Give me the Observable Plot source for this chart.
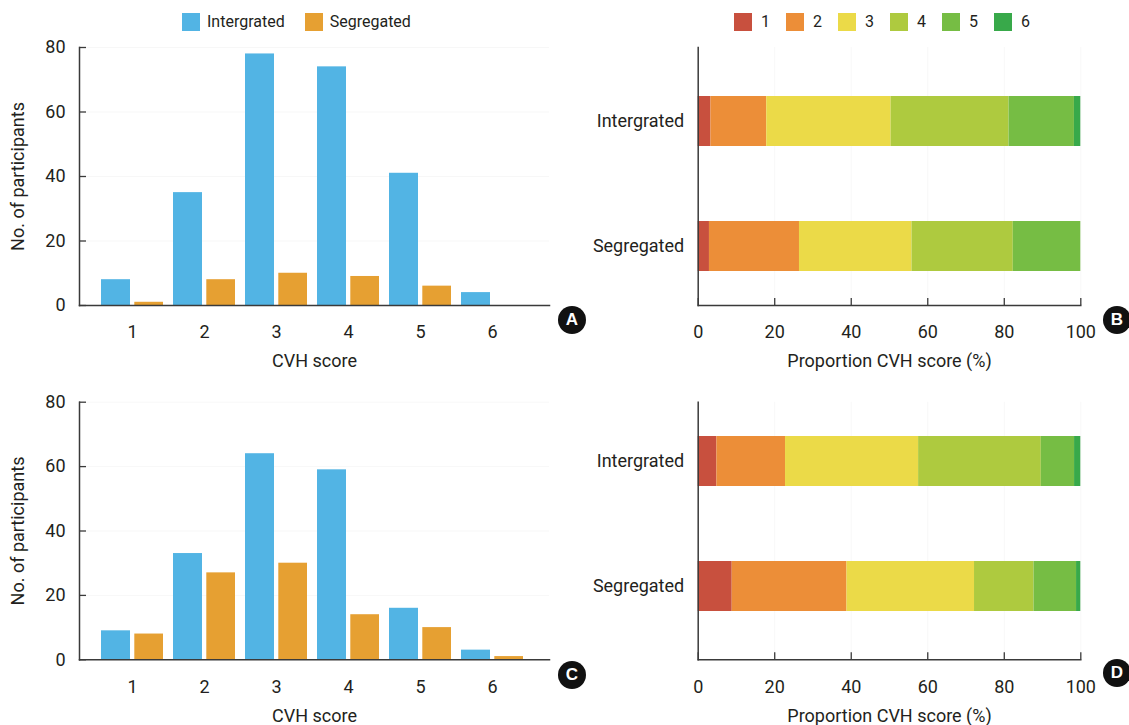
<!DOCTYPE html>
<html><head><meta charset="utf-8">
<script src="https://cdn.jsdelivr.net/npm/d3@7"></script>
<script src="https://cdn.jsdelivr.net/npm/@observablehq/plot@0.6"></script>
<style>
body{margin:0;background:#fff;font-family:Roboto,sans-serif;color:#231f20}
#fig{position:relative;width:1129px;height:725px;overflow:hidden;background:#fff}
.panel{position:absolute}
.legend{position:absolute;display:flex;align-items:center;font-size:16px;height:18px;line-height:18px}
.item{display:flex;align-items:center}
.sw{display:inline-block;width:18px;height:18px}
.badge{position:absolute;width:28px;height:28px;border-radius:50%;background:#111;color:#fff;font-weight:bold;font-size:17px;display:flex;align-items:center;justify-content:center;font-family:"Liberation Sans",Arial,sans-serif}
</style></head><body><div id="fig"></div><script>
// ---- data ----
const scores = ["1", "2", "3", "4", "5", "6"];
const groups = ["Intergrated", "Segregated"];
const countsA_int = [8, 35, 78, 74, 41, 4];
const countsA_seg = [1, 8, 10, 9, 6, 0];
const countsC_int = [9, 33, 64, 59, 16, 3];
const countsC_seg = [8, 27, 30, 14, 10, 1];
const yTicks = [0, 20, 40, 60, 80];
const xTicksProp = [0, 20, 40, 60, 80, 100];
const groupColors = ["#52b4e4", "#e6a032"];
const scoreColors = ["#c8503e", "#ec8e38", "#ebda48", "#aeca3f", "#76bd44", "#38a94a"];

const ink = "#231f20";
const axisInk = "#3a3a3a";
const fig = document.getElementById("fig");

function place(el, left, top) {
  el.classList.add("panel");
  el.style.left = left + "px";
  el.style.top = top + "px";
  fig.appendChild(el);
}

function countPanel(intC, segC, height, mTop, mBottom) {
  const rows = scores.flatMap((s, i) => [
    {score: s, group: groups[0], n: intC[i]},
    {score: s, group: groups[1], n: segC[i]}
  ]);
  return Plot.plot({
    width: 560, height,
    marginLeft: 79, marginRight: 11, marginTop: mTop, marginBottom: mBottom,
    style: {fontFamily: "Roboto", fontSize: "18px", color: ink, background: "transparent", overflow: "visible"},
    x: {domain: scores, padding: 0.135, insetLeft: 11.2, insetRight: 14},
    y: {domain: [0, 80]},
    color: {domain: groups, range: groupColors},
    marks: [
      Plot.gridY(yTicks, {stroke: "#000", strokeOpacity: 0.03}),
      Plot.barY(rows.filter(d => d.group === groups[0]), {x: "score", y: "n", fill: "group", insetRight: 33}),
      Plot.barY(rows.filter(d => d.group === groups[1]), {x: "score", y: "n", fill: "group", insetLeft: 33.3}),
      Plot.axisY(yTicks, {tickSize: 0, tickPadding: 14, label: null, fill: ink}),
      Plot.axisY(yTicks, {tickSize: -7, fill: "none", stroke: axisInk, strokeWidth: 1.3, label: null}),
      Plot.axisX({tickSize: 0, tickPadding: 20, label: null, fill: ink}),
      Plot.frame({anchor: "left", stroke: axisInk, strokeWidth: 1.5}),
      Plot.frame({anchor: "bottom", stroke: axisInk, strokeWidth: 1.5}),
      Plot.text(["CVH score"], {frameAnchor: "bottom", dy: 56, lineAnchor: "middle", textAnchor: "middle", text: d => d, fill: ink, fontSize: 18}),
      Plot.text(["No. of participants"], {frameAnchor: "left", dx: -61, rotate: -90, textAnchor: "middle", lineAnchor: "middle", text: d => d, fill: ink, fontSize: 18})
    ]
  });
}

function propPanel(intC, segC, height, mTop, mBottom, yRange) {
  const rows = [];
  [intC, segC].forEach((c, gi) => {
    const tot = d3.sum(c);
    scores.forEach((s, i) => rows.push({group: groups[gi], score: s, pct: c[i] / tot * 100}));
  });
  return Plot.plot({
    width: 569, height,
    marginLeft: 137.7, marginRight: 48.7, marginTop: mTop, marginBottom: mBottom,
    style: {fontFamily: "Roboto", fontSize: "18px", color: ink, background: "transparent", overflow: "visible"},
    x: {domain: [0, 100]},
    y: {domain: groups, range: yRange, paddingInner: 0.6, paddingOuter: 0},
    color: {domain: scores, range: scoreColors},
    marks: [
      Plot.gridX(xTicksProp.slice(1), {stroke: "#000", strokeOpacity: 0.03}),
      Plot.barX(rows, Plot.stackX({x: "pct", y: "group", fill: "score"})),
      Plot.axisX(xTicksProp, {tickSize: 0, tickPadding: 20, label: null, fill: ink}),
      Plot.axisX(xTicksProp, {tickSize: -7, fill: "none", stroke: axisInk, strokeWidth: 1.3, label: null}),
      Plot.axisY({tickSize: 0, tickPadding: 14, label: null, fill: ink}),
      Plot.frame({anchor: "left", stroke: axisInk, strokeWidth: 1.5}),
      Plot.frame({anchor: "bottom", stroke: axisInk, strokeWidth: 1.5}),
      Plot.text(["Proportion CVH score (%)"], {frameAnchor: "bottom", dy: 56, lineAnchor: "middle", textAnchor: "middle", text: d => d, fill: ink, fontSize: 18})
    ]
  });
}

place(countPanel(countsA_int, countsA_seg, 380, 47, 75), 0, 0);
place(propPanel(countsA_int, countsA_seg, 380, 47, 75, [95.7, 271.7]), 560, 0);
place(countPanel(countsC_int, countsC_seg, 365, 41.7, 65.7), 0, 360);
place(propPanel(countsC_int, countsC_seg, 365, 41.7, 65.7, [75.3, 251]), 560, 360);

// legends
function legend(labels, colors, left, top, gapText, gapItem) {
  const L = document.createElement("div");
  L.className = "legend";
  L.style.left = left + "px"; L.style.top = top + "px";
  labels.forEach((lab, i) => {
    const it = document.createElement("div");
    it.className = "item";
    if (i > 0) it.style.marginLeft = gapItem + "px";
    const sw = document.createElement("span");
    sw.className = "sw"; sw.style.background = colors[i];
    const t = document.createElement("span");
    t.textContent = lab; t.style.marginLeft = gapText + "px";
    it.appendChild(sw); it.appendChild(t);
    L.appendChild(it);
  });
  fig.appendChild(L);
}
legend(groups, groupColors, 182, 13, 7, 20);
legend(scores, scoreColors, 734, 13, 9, 16);

// panel badges
[["A", 558, 306], ["B", 1103, 306], ["C", 558, 661], ["D", 1103, 659]].forEach(([t, x, y]) => {
  const b = document.createElement("div");
  b.className = "badge"; b.textContent = t;
  b.style.left = x + "px"; b.style.top = y + "px";
  fig.appendChild(b);
});
</script></body></html>
